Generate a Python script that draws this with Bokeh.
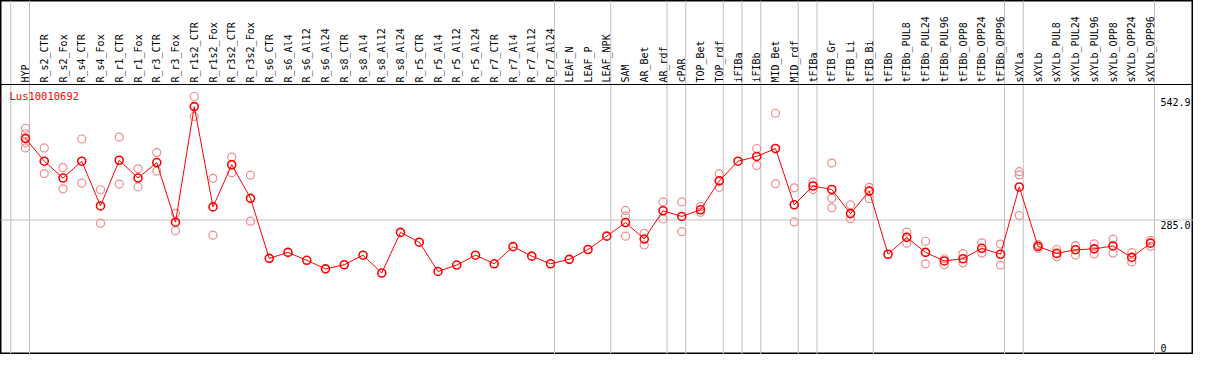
import math
import numpy as np
from bokeh.plotting import figure
from bokeh.models import Range1d, Span
from bokeh.core.properties import value
from bokeh.embed import file_html
from bokeh.resources import INLINE

gene = "Lus10010692"

samples = [
    "HYP", "R_s2_CTR", "R_s2_Fox", "R_s4_CTR", "R_s4_Fox", "R_r1_CTR", "R_r1_Fox",
    "R_r3_CTR", "R_r3_Fox", "R_r1s2_CTR", "R_r1s2_Fox", "R_r3s2_CTR", "R_r3s2_Fox",
    "R_s6_CTR", "R_s6_Al4", "R_s6_Al12", "R_s6_Al24", "R_s8_CTR", "R_s8_Al4",
    "R_s8_Al12", "R_s8_Al24", "R_r5_CTR", "R_r5_Al4", "R_r5_Al12", "R_r5_Al24",
    "R_r7_CTR", "R_r7_Al4", "R_r7_Al12", "R_r7_Al24", "LEAF_N", "LEAF_P", "LEAF_NPK",
    "SAM", "AR_Bet", "AR_rdf", "cPAR", "TOP_Bet", "TOP_rdf", "iFIBa", "iFIBb",
    "MID_Bet", "MID_rdf", "tFIBa", "tFIB_Gr", "tFIB_Li", "tFIB_Bi", "tFIBb",
    "tFIBb_PUL8", "tFIBb_PUL24", "tFIBb_PUL96", "tFIBb_OPP8", "tFIBb_OPP24", "tFIBb_OPP96",
    "sXYLa", "sXYLb", "sXYLb_PUL8", "sXYLb_PUL24", "sXYLb_PUL96", "sXYLb_OPP8",
    "sXYLb_OPP24", "sXYLb_OPP96",
]

means = [
    455.5, 407.8, 372.6, 407.8, 314.3, 409.8, 372.6, 405.0, 280.4, 521.8, 312.3, 400.4, 330.2,
    204.8, 217.3, 200.8, 182.9, 191.5, 211.4, 174.2, 259.1, 238.6, 177.5, 190.9, 211.4,
    193.5, 229.3, 209.4, 193.5, 202.8, 223.3, 251.2,
    279.6, 245.2, 304.3, 292.4, 306.3, 366.6, 407.8, 417.7, 434.3, 316.8, 356.0, 348.7,
    298.3, 345.3, 213.4, 248.6, 217.3, 199.4, 204.0, 225.9, 213.4,
    354.0, 229.9, 215.3, 222.7, 224.7, 230.7, 206.8, 236.6,
]

replicates = [
    [476.6, 465.1, 446.2, 435.6], [435.6, 381.9], [394.5, 350.1], [454.2, 362.0],
    [348.1, 278.4], [458.1, 360.0], [391.9, 354.1], [425.7, 387.1], [298.9, 262.5],
    [542.9, 501.3], [372.0, 253.2], [416.3, 383.9], [378.5, 282.4],
    [], [], [], [], [], [], [], [], [], [], [], [], [], [], [], [], [], [], [],
    [304.9, 293.0, 251.2], [257.1, 232.7], [322.8, 287.0], [322.8, 260.5],
    [312.9, 300.9], [381.1, 353.3], [], [434.3, 399.0], [507.9, 360.6], [352.1, 281.0],
    [364.0, 348.7], [403.8, 330.2, 310.3], [316.8, 287.6], [353.3, 329.4], [],
    [259.7, 236.6], [240.6, 193.5], [204.0, 191.5], [214.8, 195.4], [237.2, 215.9],
    [234.7, 190.9],
    [385.9, 379.1, 294.4], [233.9, 225.9], [223.3, 208.0], [231.3, 212.0], [235.2, 214.0],
    [245.2, 215.9], [216.7, 197.4], [242.6, 229.9],
]

group_ends = ["HYP", "R_r7_Al24", "LEAF_NPK", "AR_rdf", "cPAR", "TOP_rdf", "iFIBa",
              "iFIBb", "MID_rdf", "tFIBa", "tFIB_Bi", "tFIBb_OPP96", "sXYLa", "sXYLb_OPP96"]

ytick_values = [542.9, 285.0, 0.0]
ytick_labels = ["542.9", "285.0", "0"]

# ---- layout (pixels) ----
W, H = 1193, 354
STEP = 18.75      # px per sample column
X0 = 25           # px position of first column
HEADER = 84       # px height of the label band
V_LO, V_HI = 4.0, 568.0

plot_h = H - HEADER
upp = (V_HI - V_LO) / plot_h
x_start = -X0 / STEP
x_end = x_start + W / STEP
y_end = V_HI + HEADER * upp
line_off = 4.0 / STEP

FONT = value("DejaVu Sans Mono")
GRID = "#c0c0c0"
RED = "#ff0000"
PINK = "#ee8c8c"

p = figure(width=W, height=H, x_range=Range1d(x_start, x_end),
           y_range=Range1d(V_LO, y_end), x_axis_type=None, y_axis_type=None,
           output_backend="svg", toolbar_location=None, min_border=0,
           outline_line_color="black", outline_line_width=2,
           background_fill_color="white", border_fill_color="white")

idx = np.arange(len(samples))
pos = {s: i for i, s in enumerate(samples)}

# group separators (vertical grey lines)
p.add_layout(Span(location=-1 + line_off, dimension="height", line_color=GRID,
                  line_width=1, level="underlay"))
for g in group_ends:
    p.add_layout(Span(location=pos[g] + line_off, dimension="height", line_color=GRID,
                      line_width=1, level="underlay"))

# mid reference line
p.add_layout(Span(location=ytick_values[1], dimension="width", line_color=GRID,
                  line_width=1, level="underlay"))
# header separator
p.add_layout(Span(location=V_HI, dimension="width", line_color="black", line_width=1))

# replicate points
rx, ry = [], []
for i, reps in enumerate(replicates):
    for v in reps:
        rx.append(i)
        ry.append(v)
p.scatter(rx, ry, marker="circle", size=8, fill_color=None, line_color=PINK, line_width=1.2)

# mean profile
p.line(idx, means, line_color=RED, line_width=1)
p.scatter(idx, means, marker="circle", size=8, fill_color=None, line_color=RED, line_width=1.6)

# sample labels
p.text(x=idx, y=[V_HI] * len(samples), text=samples, angle=math.pi / 2,
       text_align="left", text_baseline="middle", y_offset=-2,
       text_font=FONT, text_font_size="10px", text_color="black")

# gene name
p.text(x=[0], y=[V_HI], text=[gene], x_offset=-16, y_offset=5,
       text_align="left", text_baseline="top",
       text_font=FONT, text_font_size="10.5px", text_color=RED)

# value labels on the right
last = len(samples) - 1
p.text(x=[last] * 2, y=ytick_values[:2], text=ytick_labels[:2], x_offset=10, y_offset=1,
       text_align="left", text_baseline="top", text_font=FONT, text_font_size="10px",
       text_color="black", background_fill_color="white")
p.text(x=[last], y=ytick_values[2:], text=ytick_labels[2:], x_offset=10, y_offset=-4,
       text_align="left", text_baseline="bottom", text_font=FONT, text_font_size="10px",
       text_color="black")

open("out.html", "w").write(file_html(p, INLINE))
